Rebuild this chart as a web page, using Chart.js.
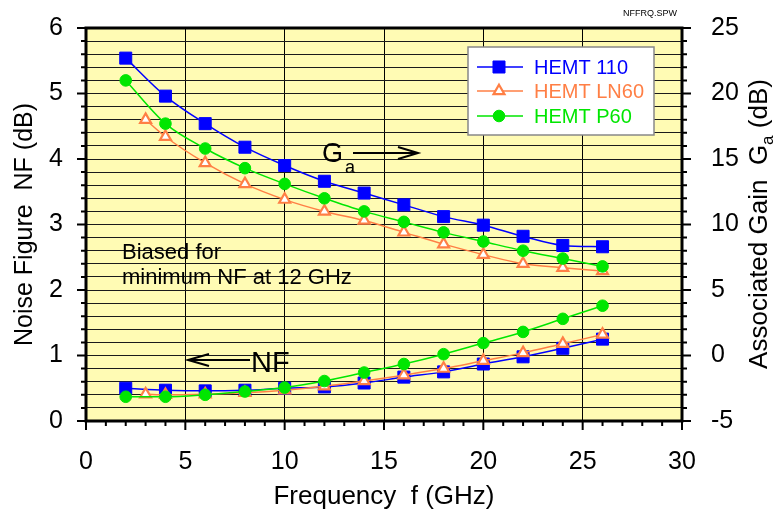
<!DOCTYPE html>
<html>
<head>
<meta charset="utf-8">
<script src="https://cdn.jsdelivr.net/npm/chart.js@4"></script>
<style>
  html, body { margin: 0; padding: 0; background: #fff; }
  #wrap { width: 776px; height: 513px; }
</style>
</head>
<body>
<div id="wrap"><canvas id="graph" width="776" height="513"></canvas></div>
<script>
// frequencies (GHz)
const freqA = [2, 4, 6, 8, 10, 12, 14, 16, 18, 20, 22, 24, 26];
const freqLN = [3, 4, 6, 8, 10, 12, 14, 16, 18, 20, 22, 24, 26];

const seriesNames = ["HEMT 110", "HEMT LN60", "HEMT P60"];
const seriesColors = ["#0000ff", "#ff7f45", "#00e600"];

// associated gain Ga (dB), right axis
const gain110 = [22.7, 19.8, 17.7, 15.9, 14.5, 13.3, 12.4, 11.5, 10.6, 9.95, 9.1, 8.4, 8.3];
const gainLN60 = [18.0, 16.7, 14.7, 13.1, 11.9, 11.0, 10.3, 9.4, 8.5, 7.7, 7.0, 6.7, 6.45];
const gainP60 = [21.0, 17.7, 15.8, 14.3, 13.1, 12.0, 11.0, 10.2, 9.4, 8.7, 8.0, 7.4, 6.8];

// noise figure NF (dB), left axis
const nf110 = [0.50, 0.47, 0.46, 0.47, 0.50, 0.52, 0.58, 0.67, 0.75, 0.87, 0.98, 1.11, 1.25];
const nfLN60 = [0.41, 0.40, 0.41, 0.43, 0.47, 0.53, 0.61, 0.70, 0.80, 0.92, 1.04, 1.18, 1.32];
const nfP60 = [0.37, 0.37, 0.40, 0.45, 0.51, 0.61, 0.74, 0.87, 1.02, 1.19, 1.36, 1.56, 1.76];

const FONT = '"Liberation Sans", Arial, sans-serif';
Chart.defaults.font.family = FONT;
Chart.defaults.color = "#000";

function pts(xs, ys) {
  return xs.map((x, i) => ({ x: x, y: ys[i] }));
}

const markers = [
  { pointStyle: "rect", pointRadius: 8.5, pointBorderWidth: 1, bg: seriesColors[0] },
  { pointStyle: "triangle", pointRadius: 6.3, pointBorderWidth: 2.2, bg: "#ffffff" },
  { pointStyle: "circle", pointRadius: 5.8, pointBorderWidth: 1, bg: seriesColors[2] }
];

function series(i, xs, ys, axis) {
  const m = markers[i];
  return {
    label: seriesNames[i],
    data: pts(xs, ys),
    yAxisID: axis,
    borderColor: seriesColors[i],
    backgroundColor: m.bg,
    pointBackgroundColor: m.bg,
    pointBorderColor: seriesColors[i],
    pointStyle: m.pointStyle,
    pointRadius: m.pointRadius,
    pointBorderWidth: m.pointBorderWidth,
    borderWidth: 1.5,
    cubicInterpolationMode: "monotone",
    order: 3 - i,
    clip: false
  };
}

const isMult = (v, m) => Math.abs(v / m - Math.round(v / m)) < 1e-6;

// fixed axis box sizes, no extra label padding
function fixSize(prop, val) {
  return s => {
    s[prop] = val;
    s.paddingTop = 0; s.paddingBottom = 0;
    s.paddingLeft = 0; s.paddingRight = 0;
  };
}

// background, ticks, frame, legend and notes
const paper = {
  id: "paper",
  beforeDraw(chart) {
    const { ctx, chartArea: a } = chart;
    ctx.save();
    ctx.fillStyle = "#fffbb4";
    ctx.fillRect(a.left, a.top, a.right - a.left, a.bottom - a.top);
    ctx.restore();
  },
  afterDraw(chart) {
    const { ctx, chartArea: a, scales } = chart;
    ctx.save();
    ctx.strokeStyle = "#000";
    ctx.lineWidth = 2;
    ctx.beginPath();
    scales.x.ticks.forEach(t => {
      const px = scales.x.getPixelForValue(t.value);
      const len = isMult(t.value, 5) ? 9 : 5;
      ctx.moveTo(px, a.bottom); ctx.lineTo(px, a.bottom + len);
    });
    scales.y.ticks.forEach(t => {
      const py = scales.y.getPixelForValue(t.value);
      const len = isMult(t.value, 1) ? 9 : 5;
      ctx.moveTo(a.left, py); ctx.lineTo(a.left - len, py);
    });
    scales.y1.ticks.forEach(t => {
      const py = scales.y1.getPixelForValue(t.value);
      const len = isMult(t.value, 5) ? 9 : 5;
      ctx.moveTo(a.right, py); ctx.lineTo(a.right + len, py);
    });
    ctx.stroke();

    // frame
    ctx.lineWidth = 3;
    ctx.strokeRect(a.left, a.top, a.right - a.left, a.bottom - a.top);

    // right axis title with subscript
    ctx.save();
    ctx.translate(758, 224);
    ctx.rotate(-Math.PI / 2);
    ctx.fillStyle = "#000";
    ctx.textBaseline = "alphabetic";
    ctx.textAlign = "left";
    ctx.font = "26px " + FONT;
    const p1 = "Associated Gain  G", p3 = " (dB)";
    const w1 = ctx.measureText(p1).width, w3 = ctx.measureText(p3).width;
    ctx.font = "17px " + FONT;
    const w2 = ctx.measureText("a").width;
    let x0 = -(w1 + w2 + w3) / 2;
    ctx.font = "26px " + FONT;
    ctx.fillText(p1, x0, 9);
    ctx.font = "17px " + FONT;
    ctx.fillText("a", x0 + w1, 15);
    ctx.font = "26px " + FONT;
    ctx.fillText(p3, x0 + w1 + w2, 9);
    ctx.restore();

    // legend box
    ctx.fillStyle = "#fff";
    ctx.fillRect(468, 47, 186, 88);
    ctx.strokeStyle = "#888";
    ctx.lineWidth = 1.5;
    ctx.strokeRect(468, 47, 186, 88);
    const rows = [67, 91, 116];
    chart.data.datasets.slice(0, 3).forEach((ds, i) => {
      const y = rows[i];
      ctx.strokeStyle = ds.borderColor;
      ctx.lineWidth = 1.5;
      ctx.beginPath(); ctx.moveTo(477, y); ctx.lineTo(523, y); ctx.stroke();
      ctx.fillStyle = ds.pointBackgroundColor;
      ctx.strokeStyle = ds.pointBorderColor;
      ctx.lineWidth = ds.pointBorderWidth;
      ctx.beginPath();
      if (ds.pointStyle === "rect") {
        const s = ds.pointRadius * Math.SQRT1_2;
        ctx.rect(499 - s, y - s, 2 * s, 2 * s);
      } else if (ds.pointStyle === "triangle") {
        const r = ds.pointRadius;
        ctx.moveTo(499, y - r);
        ctx.lineTo(499 + r * 0.866, y + r / 2);
        ctx.lineTo(499 - r * 0.866, y + r / 2);
        ctx.closePath();
      } else {
        ctx.arc(499, y, ds.pointRadius, 0, Math.PI * 2);
      }
      ctx.fill(); ctx.stroke();
      ctx.fillStyle = ds.borderColor;
      ctx.font = "20px " + FONT;
      ctx.textBaseline = "middle";
      ctx.fillText(ds.label, 534, y + 1);
    });

    // notes
    ctx.fillStyle = "#000";
    ctx.strokeStyle = "#000";
    ctx.textBaseline = "alphabetic";
    ctx.font = "27px " + FONT;
    ctx.fillText("G", 322, 162);
    ctx.font = "18px " + FONT;
    ctx.fillText("a", 345, 173);
    ctx.lineWidth = 2;
    ctx.beginPath();
    ctx.moveTo(353, 153); ctx.lineTo(418, 153);
    ctx.moveTo(398, 147); ctx.lineTo(418, 153); ctx.lineTo(398, 159);
    ctx.stroke();

    ctx.beginPath();
    ctx.moveTo(188, 360); ctx.lineTo(250, 360);
    ctx.moveTo(209, 354); ctx.lineTo(188, 360); ctx.lineTo(209, 366);
    ctx.stroke();
    ctx.font = "29px " + FONT;
    ctx.fillText("NF", 251, 372);

    ctx.font = "22px " + FONT;
    ctx.fillText("Biased for", 122, 259);
    ctx.fillText("minimum NF at 12 GHz", 122, 284);

    ctx.font = "9px " + FONT;
    ctx.textAlign = "right";
    ctx.fillText("NFFRQ.SPW", 677, 16);
    ctx.restore();
  }
};

new Chart(document.getElementById("graph"), {
  type: "line",
  data: {
    datasets: [
      series(0, freqA, gain110, "y1"),
      series(1, freqLN, gainLN60, "y1"),
      series(2, freqA, gainP60, "y1"),
      series(0, freqA, nf110, "y"),
      series(1, freqLN, nfLN60, "y"),
      series(2, freqA, nfP60, "y")
    ]
  },
  options: {
    responsive: false,
    devicePixelRatio: 1,
    animation: false,
    events: [],
    layout: { padding: { top: 28, left: 0, right: 0, bottom: 0 } },
    plugins: {
      legend: { display: false },
      tooltip: { enabled: false }
    },
    scales: {
      x: {
        type: "linear",
        min: 0, max: 30,
        ticks: {
          stepSize: 1,
          autoSkip: false,
          maxRotation: 0,
          padding: 26,
          font: { size: 25 },
          callback: v => (isMult(v, 5) ? v : "")
        },
        grid: {
          drawTicks: false,
          lineWidth: 1,
          color: c => (c.tick && isMult(c.tick.value, 5) ? "#000" : "rgba(0,0,0,0)")
        },
        border: { display: false },
        title: {
          display: true,
          text: "Frequency  f (GHz)",
          font: { size: 26 },
          padding: { top: 0, bottom: 1 }
        },
        afterFit: fixSize("height", 92)
      },
      y: {
        position: "left",
        min: 0, max: 6,
        ticks: {
          stepSize: 0.2,
          autoSkip: false,
          padding: 23,
          font: { size: 25 },
          callback: v => (isMult(v, 1) ? Math.round(v) : "")
        },
        grid: { drawTicks: false, lineWidth: 1, color: "#1a1a1a" },
        border: { display: false },
        title: {
          display: true,
          text: "Noise Figure  NF (dB)",
          font: { size: 25 },
          padding: { top: 10, bottom: 0 }
        },
        afterFit: fixSize("width", 86)
      },
      y1: {
        position: "right",
        min: -5, max: 25,
        ticks: {
          stepSize: 1,
          autoSkip: false,
          padding: 29,
          font: { size: 25 },
          callback: v => (isMult(v, 5) ? Math.round(v) : "")
        },
        grid: { display: false, drawTicks: false },
        border: { display: false },
        afterFit: fixSize("width", 94)
      }
    }
  },
  plugins: [paper]
});
</script>
</body>
</html>
